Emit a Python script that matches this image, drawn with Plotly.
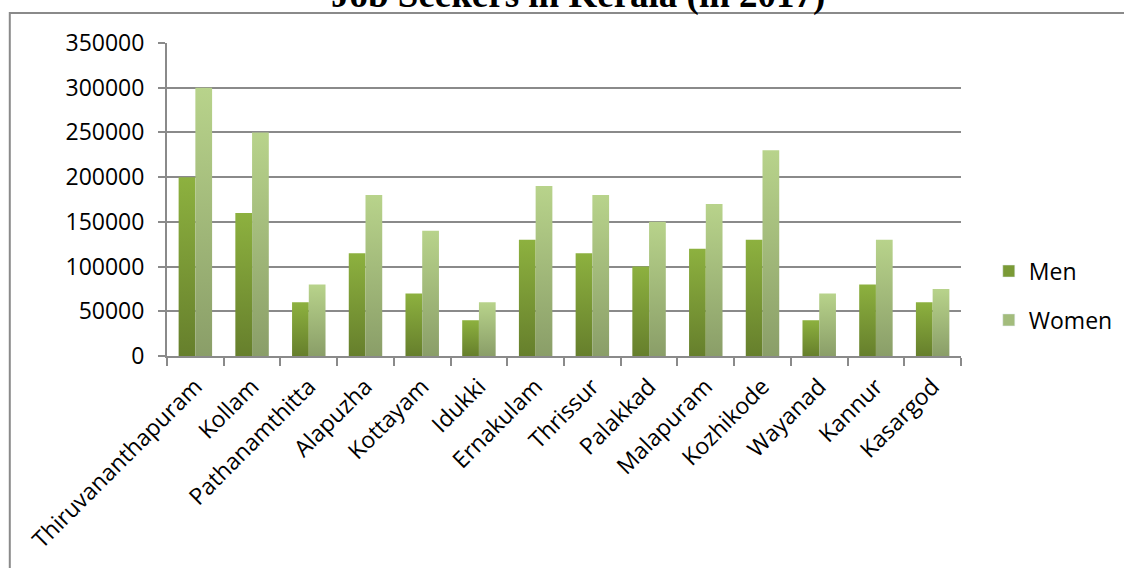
import plotly.graph_objects as go

# Job seekers by district, Kerala 2017
districts = ["Thiruvananthapuram", "Kollam", "Pathanamthitta", "Alapuzha", "Kottayam",
             "Idukki", "Ernakulam", "Thrissur", "Palakkad", "Malapuram", "Kozhikode",
             "Wayanad", "Kannur", "Kasargod"]
men = [200000, 160000, 60000, 115000, 70000, 40000, 130000, 115000, 100000, 120000,
       130000, 40000, 80000, 60000]
women = [300000, 250000, 80000, 180000, 140000, 60000, 190000, 180000, 150000, 170000,
         230000, 70000, 130000, 75000]
y_ticks = [0, 50000, 100000, 150000, 200000, 250000, 300000, 350000]

FONT = "Open Sans"
GRID = "#8a8a8a"
BAR_W = 0.295  # width of one bar in category units

series = [
    ("Men", men, -1, "#667F2C", "#8DB13F", "#7A9A36"),
    ("Women", women, 0, "#8A9E68", "#B8D38B", "#A3BC7C"),
]

fig = go.Figure()

# each bar is a filled polygon so it can carry its own bottom-to-top gradient
for name, vals, side, c_bot, c_top, c_mid in series:
    for i, v in enumerate(vals):
        x0 = i + side * BAR_W
        x1 = x0 + BAR_W
        fig.add_trace(go.Scatter(
            x=[x0, x0, x1, x1, x0], y=[0, v, v, 0, 0],
            mode="lines", line=dict(width=0), fill="toself",
            fillgradient=dict(type="vertical", colorscale=[[0, c_bot], [1, c_top]]),
            showlegend=False, hoverinfo="skip",
        ))
    # legend entry for the series
    fig.add_trace(go.Bar(x=[None], y=[None], name=name, marker=dict(color=c_mid),
                         legendgroup=name, showlegend=True))

fig.update_layout(
    width=1124, height=568,
    margin=dict(l=167, r=163, t=43, b=212, autoexpand=False),
    paper_bgcolor="white", plot_bgcolor="white",
    font=dict(family=FONT, size=23, color="black"),
    showlegend=True,
    legend=dict(x=1.035, y=0.34, xanchor="left", yanchor="top",
                font=dict(family=FONT, size=23), tracegroupgap=16,
                bgcolor="rgba(0,0,0,0)"),
    xaxis=dict(
        range=[-0.5, len(districts) - 0.5],
        tickmode="array", tickvals=list(range(len(districts))), ticktext=districts,
        tickangle=-45, ticks="", showgrid=False, zeroline=False,
        showline=True, linecolor=GRID, linewidth=2,
        minor=dict(tickmode="array",
                   tickvals=[k - 0.5 for k in range(len(districts) + 1)],
                   ticks="outside", ticklen=8, tickcolor=GRID, tickwidth=2,
                   showgrid=False),
        ticklabelstandoff=6,
    ),
    yaxis=dict(
        range=[0, 350000], tickmode="array", tickvals=y_ticks,
        ticktext=[str(t) for t in y_ticks],
        ticks="outside", ticklen=7, tickcolor=GRID, tickwidth=2,
        showgrid=True, gridcolor=GRID, gridwidth=2,
        showline=True, linecolor=GRID, linewidth=2, zeroline=False,
        ticklabelstandoff=9,
    ),
    shapes=[dict(type="rect", xref="paper", yref="paper",
                 x0=-0.198, x1=1.21, y0=-0.75, y1=1.0958,
                 line=dict(color="#8a8a8a", width=2), layer="below")],
    annotations=[dict(text="<b>Job Seekers in Kerala (in 2017)</b>",
                      xref="paper", yref="paper", x=0.518, y=1.08,
                      xanchor="center", yanchor="bottom", showarrow=False,
                      font=dict(family="Liberation Serif", size=37, color="black"))],
)

fig.write_html("out.html")
